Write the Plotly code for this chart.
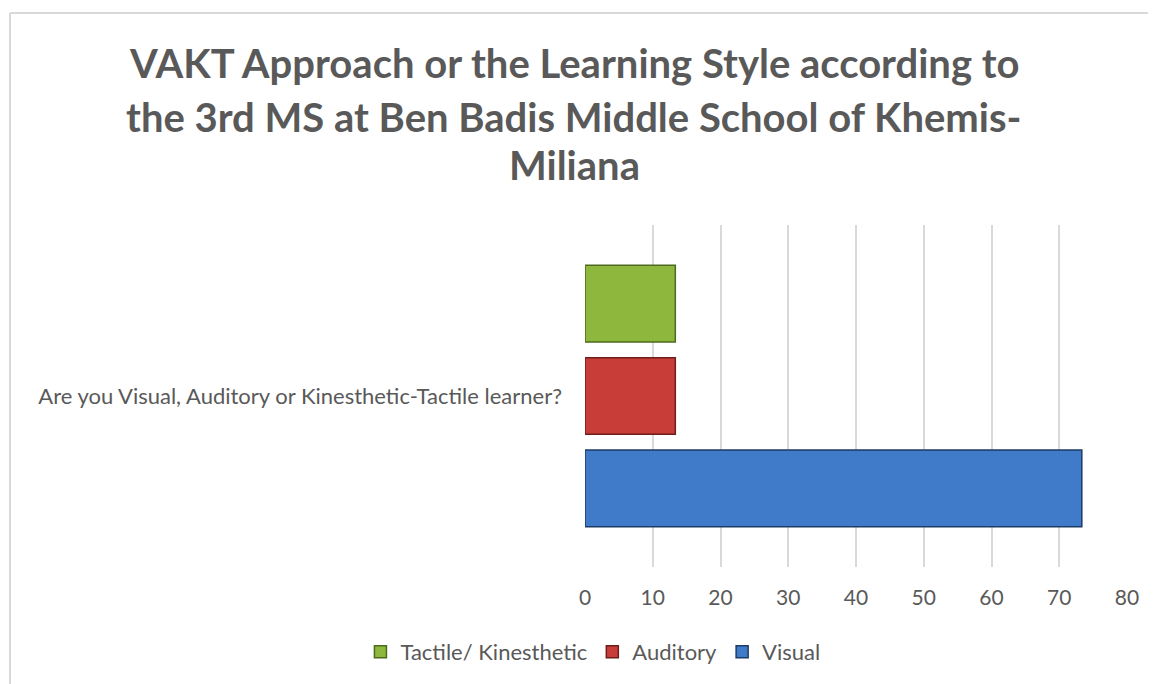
import plotly.graph_objects as go

# data
question = ["Are you Visual, Auditory or Kinesthetic-Tactile learner?"]
series_names = ["Visual", "Auditory", "Tactile/ Kinesthetic"]
series_values = [[73.33], [13.33], [13.33]]
fill_colors = ["#3f7bc8", "#c93d39", "#8db83d"]
edge_colors = ["#1c3c66", "#6e1e1b", "#4e6a1e"]
x_ticks = [0, 10, 20, 30, 40, 50, 60, 70, 80]

title_lines = [
    "VAKT Approach or the Learning Style according to",
    "the 3rd MS at Ben Badis Middle School of Khemis-",
    "Miliana",
]

W, H = 1156, 684
# plot area in figure pixels (page body adds an 8px offset)
PL, PR, PT, PB = 577, 1119, 217, 559
pw, ph = PR - PL, PB - PT

FONT = "Lato, Calibri, sans-serif"
GREY = "#595959"

fig = go.Figure()

for name, vals, fill, edge in zip(series_names, series_values, fill_colors, edge_colors):
    fig.add_trace(go.Bar(
        y=question,
        x=vals,
        name=name,
        orientation="h",
        marker=dict(color=fill, line=dict(color=edge, width=1.5)),
    ))

fig.update_layout(
    width=W,
    height=H,
    paper_bgcolor="white",
    plot_bgcolor="white",
    font=dict(family=FONT, color=GREY),
    barmode="group",
    bargap=0.19,
    bargroupgap=0.17,
    margin=dict(l=PL, r=W - PR, t=PT, b=H - PB),
    showlegend=True,
    legend=dict(
        orientation="h",
        traceorder="reversed",
        xref="container",
        x=0.506,
        xanchor="center",
        yref="container",
        y=1 - 644 / H,
        yanchor="middle",
        font=dict(size=22, color=GREY),
        itemwidth=30,
    ),
)

# title, one annotation per line
for line, yc in zip(title_lines, [55, 109, 157]):
    fig.add_annotation(
        text=line,
        xref="paper", yref="paper",
        x=(566 - PL) / pw, y=(PB - yc) / ph,
        xanchor="center", yanchor="middle",
        showarrow=False,
        font=dict(size=40, color=GREY, family=FONT, weight="bold"),
    )

fig.update_xaxes(
    range=[0, 80],
    tickvals=x_ticks,
    showgrid=True,
    gridcolor="#d9d9d9",
    gridwidth=1.5,
    zeroline=False,
    showline=False,
    ticks="",
    tickfont=dict(size=21, color=GREY),
    ticklabelstandoff=16,
)
fig.update_yaxes(
    showgrid=False,
    zeroline=False,
    showline=False,
    ticks="",
    tickfont=dict(size=22, color=GREY),
    ticklabelstandoff=22,
)

# chart frame (top and left edges visible in the crop)
fy = (PB - 5) / ph
fx = (2 - PL) / pw
fig.add_shape(type="line", xref="paper", yref="paper",
              x0=fx, x1=(W - PL) / pw, y0=fy, y1=fy,
              line=dict(color="#d9d9d9", width=2))
fig.add_shape(type="line", xref="paper", yref="paper",
              x0=fx, x1=fx, y0=-(H - PB) / ph, y1=fy,
              line=dict(color="#d9d9d9", width=2))

fig.write_html("out.html")
